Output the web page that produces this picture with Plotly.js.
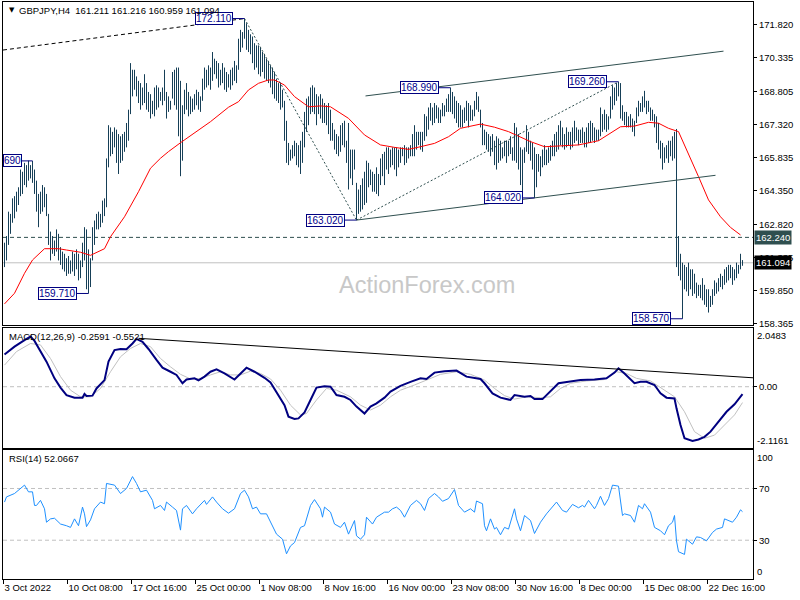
<!DOCTYPE html>
<html><head><meta charset="utf-8">
<script src="https://cdn.plot.ly/plotly-3.0.1.min.js"></script>
<style>html,body{margin:0;padding:0;background:#fff}#chart{width:800px;height:600px}</style>
</head><body><div id="chart"></div>
<script>
// ---------- DATA ----------
const symbolTitle = "GBPJPY,H4\u00a0\u00a0161.211 161.216 160.959 161.094";
const macdTitle = "MACD(12,26,9) -0.2591 -0.5521";
const rsiTitle = "RSI(14) 52.0667";
const watermark = "ActionForex.com";

// H4 bar highs / lows (bar index 0 = 3 Oct 2022 00:00)
const highs = [
162.0,162.3,163.4,163.3,164.0,164.1,164.3,164.5,165.3,165.2,
165.6,165.5,165.7,165.5,165.69,165.3,164.8,164.2,164.3,164.6,
164.5,164.2,163.3,162.5,162.3,162.1,162.6,162.4,161.8,161.6,
161.5,161.3,161.4,161.2,161.6,161.5,161.7,161.5,161.2,162.0,
162.7,162.6,161.7,161.3,162.7,163.0,163.3,163.4,163.3,163.9,
164.0,165.8,167.3,167.2,167.0,167.2,167.1,166.9,166.8,166.9,
167.0,167.4,168.0,170.1,169.8,169.8,169.5,169.3,169.2,169.0,
169.6,169.2,168.8,168.7,168.4,169.0,169.1,169.0,168.8,169.0,
169.8,168.8,168.6,168.4,169.7,169.8,169.9,169.9,169.3,168.2,
168.9,169.2,168.8,168.6,168.5,168.7,168.9,168.8,168.6,169.4,
169.9,169.8,170.0,169.9,170.6,170.3,170.2,170.1,169.8,170.1,
169.9,169.7,169.6,169.8,169.9,170.2,170.0,171.2,171.6,171.5,
172.11,171.9,171.6,171.4,171.3,171.0,170.9,170.9,170.8,170.6,
170.5,170.3,170.2,170.0,169.9,169.7,169.4,169.2,169.2,168.9,
168.4,167.5,166.5,166.2,166.4,166.6,166.5,166.4,166.6,167.0,
167.9,168.5,168.6,169.0,169.1,169.0,168.7,168.6,168.7,168.5,
168.3,168.2,168.3,168.0,167.4,167.1,166.9,166.8,167.3,167.4,
167.5,166.6,167.4,166.2,166.2,166.2,164.7,164.4,164.6,164.9,
165.2,165.7,165.6,165.3,165.2,165.1,165.4,165.1,165.8,166.0,
166.1,166.3,166.3,166.2,166.3,166.3,166.3,166.2,166.3,166.3,
166.4,166.3,166.3,166.4,166.9,167.3,167.0,167.0,167.0,167.0,
167.8,167.7,168.1,168.3,168.1,168.3,168.2,168.1,168.0,168.3,
168.2,168.5,168.7,168.99,168.8,168.6,168.4,168.3,168.2,168.0,
168.1,168.4,168.3,168.2,168.0,168.4,168.8,168.6,168.0,167.4,
167.1,167.0,166.9,166.8,166.9,166.6,166.8,166.7,166.6,166.3,
166.6,166.6,166.6,166.8,166.3,167.4,167.2,166.9,166.3,166.2,
166.3,167.3,167.0,166.6,166.5,166.3,166.0,166.0,165.9,166.2,
166.4,166.2,166.3,166.4,166.6,166.9,167.0,167.3,167.5,167.2,
166.9,167.2,167.0,167.0,167.2,167.5,167.2,167.1,167.1,167.2,
167.0,167.2,167.4,167.5,167.4,167.2,167.1,167.1,168.1,167.8,
168.0,167.8,167.7,168.6,169.1,169.0,169.2,169.26,169.2,168.2,
167.9,167.9,167.7,167.8,167.6,167.5,168.1,168.4,168.3,168.6,
168.85,168.4,168.4,168.1,168.0,167.8,167.7,167.4,166.6,166.5,
166.3,166.4,166.6,166.6,166.8,167.0,167.13,162.3,161.5,161.1,
161.0,160.9,161.1,160.8,160.8,160.6,160.2,160.1,160.1,160.4,
160.1,159.9,159.9,159.6,159.9,160.3,160.2,160.4,160.6,160.5,
160.8,160.9,161.0,161.0,160.9,160.8,161.1,161.0,161.5,161.216];
const lows = [
160.9,161.2,161.9,162.4,162.9,163.1,163.4,163.7,164.1,164.2,
164.6,164.5,164.8,164.9,164.7,164.2,163.4,162.7,163.3,163.4,
163.6,163.2,161.9,161.2,161.5,161.4,161.6,161.2,161.0,160.8,
160.7,160.5,160.6,160.6,160.7,160.5,160.8,160.3,160.4,160.9,
161.2,159.9,159.71,160.0,161.2,161.9,162.6,162.6,162.7,162.9,
163.2,163.6,165.4,165.9,166.0,166.3,165.6,165.1,165.6,165.7,
166.1,166.3,166.6,167.8,168.6,168.9,168.6,168.3,168.0,168.2,
168.3,168.0,167.9,167.6,167.8,167.7,168.0,168.1,168.4,168.2,
168.4,167.6,167.9,168.0,168.5,168.2,168.0,166.8,165.0,165.7,
167.8,168.0,167.7,167.8,167.9,168.0,168.2,168.0,167.9,168.4,
168.9,169.0,169.1,168.9,169.3,169.6,169.4,169.0,169.1,169.2,
168.9,168.8,169.0,168.9,169.1,169.3,169.2,169.8,170.6,170.8,
171.2,170.7,170.6,170.5,170.1,169.8,169.9,169.6,169.5,169.7,
169.4,169.3,169.2,169.0,168.7,168.5,168.4,168.3,168.0,168.1,
166.6,165.6,165.5,165.7,165.8,165.9,165.5,165.4,165.1,165.6,
166.3,167.0,167.3,167.8,167.9,167.8,167.3,167.8,167.6,167.4,
167.4,167.3,166.9,166.6,166.6,166.2,166.0,165.9,166.1,166.4,
166.3,165.6,164.4,164.9,164.6,165.3,163.02,163.3,163.4,163.5,
163.7,163.8,164.5,164.6,164.3,164.3,164.2,164.1,164.6,165.0,
164.6,165.3,165.1,165.4,165.5,165.3,165.0,165.4,165.6,165.9,
165.5,165.6,165.8,165.9,165.9,165.9,166.2,166.4,166.2,166.1,
166.6,166.8,167.1,167.5,167.3,167.4,167.6,167.4,167.4,167.7,
167.7,167.9,167.9,167.9,167.8,167.6,167.4,167.2,167.2,167.2,
167.4,167.5,167.2,167.5,167.5,167.7,168.0,167.9,167.2,166.4,
166.4,166.2,166.1,165.9,166.1,165.5,165.3,165.6,165.7,165.8,
165.9,165.6,165.9,166.0,165.7,165.7,165.6,165.3,164.6,164.1,
165.6,166.1,166.0,165.7,165.3,164.02,164.5,165.2,165.0,165.4,
165.5,165.5,165.6,165.7,165.9,165.9,166.1,166.2,166.4,166.3,
166.2,166.3,166.4,166.2,166.3,166.5,166.6,166.4,166.5,166.5,
166.3,166.3,166.5,166.5,166.6,166.5,166.6,166.6,166.8,167.0,
167.1,167.0,167.1,167.6,168.0,168.2,168.4,168.6,167.6,167.5,
167.3,167.2,167.2,167.2,167.0,166.8,167.4,167.7,167.9,167.9,
168.1,167.8,167.9,167.5,167.5,167.2,166.5,166.2,165.8,165.3,
165.6,165.8,165.6,165.9,165.7,165.8,160.9,160.5,160.3,158.57,
159.9,159.8,159.6,159.9,159.6,159.7,159.5,159.6,159.5,159.4,
159.2,159.1,158.85,159.1,159.2,159.6,159.7,159.8,160.0,159.9,
160.1,160.2,160.3,160.4,160.1,160.3,160.4,160.6,160.8,160.959];

// moving average (red), read at these bar indices
const maIdx = [0,5,10,14,20,27,31,38,43,50,53,60,67,73,78,82,88,95,103,112,117,122,127,132,135,140,145,152,158,163,172,180,188,195,202,208,215,222,228,238,245,252,258,263,270,278,287,297,303,308,315,322,327,332,337,342,347,352,358,363,368];
const maVal = [159.24,159.72,160.62,161.22,161.73,161.73,161.67,161.57,161.43,161.73,162.27,163.17,164.30,165.36,165.81,166.11,166.51,166.94,167.46,168.11,168.36,168.89,169.19,169.34,169.34,169.11,168.59,168.13,168.17,168.13,167.61,166.86,166.41,166.30,166.21,166.33,166.48,166.78,167.16,167.35,167.21,167.01,166.78,166.56,166.33,166.36,166.41,166.60,166.94,167.23,167.26,167.43,167.39,167.16,167.01,166.03,164.98,163.93,163.17,162.69,162.35];

// MACD main line and signal line
const macdIdx = [0,5,10,13,15,18,21,25,28,31,35,39,40,41,44,46,50,52,55,58,61,64,66,69,72,76,79,83,86,89,91,95,97,100,103,106,110,115,118,121,125,130,133,136,140,142,145,147,150,153,156,160,163,166,170,173,176,180,183,186,190,193,198,203,208,211,215,220,226,231,238,240,244,248,253,255,260,263,265,269,272,277,282,288,295,301,305,307,310,315,318,321,325,328,331,335,336,338,340,344,347,350,353,357,361,365,369];
const macdVal = [1.12,1.39,1.62,1.74,1.59,1.24,0.87,0.29,-0.03,-0.29,-0.38,-0.38,-0.25,-0.32,-0.31,-0.06,0.23,0.87,1.27,1.31,1.30,1.50,1.66,1.56,1.31,0.93,0.66,0.52,0.41,0.12,0.25,0.29,0.22,0.35,0.52,0.60,0.46,0.25,0.46,0.66,0.52,0.31,0.15,-0.17,-0.64,-1.04,-1.12,-1.10,-0.89,-0.46,-0.03,0.02,0.00,-0.29,-0.35,-0.46,-0.69,-0.93,-0.69,-0.58,-0.38,-0.17,0.03,0.17,0.29,0.27,0.49,0.54,0.56,0.35,0.27,0.12,-0.23,-0.38,-0.46,-0.29,-0.35,-0.32,-0.43,-0.43,-0.23,0.12,0.17,0.23,0.25,0.29,0.49,0.64,0.46,0.12,0.17,0.17,0.06,-0.23,-0.38,-0.41,-0.75,-1.33,-1.79,-1.88,-1.83,-1.74,-1.56,-1.22,-0.87,-0.61,-0.26];
const sigIdx = [0,6,13,18,23,28,33,38,43,48,53,58,63,68,73,78,83,88,93,98,103,108,113,118,123,128,133,138,143,148,151,156,161,166,173,178,183,188,193,198,205,211,218,226,233,240,245,250,255,261,268,273,278,283,291,300,306,311,316,323,330,335,340,345,350,355,360,365,369];
const sigVal = [0.75,1.22,1.50,1.45,0.98,0.35,-0.12,-0.35,-0.35,-0.06,0.52,1.04,1.33,1.50,1.39,0.98,0.69,0.43,0.27,0.29,0.41,0.52,0.41,0.41,0.54,0.46,0.27,-0.12,-0.64,-0.98,-0.93,-0.46,-0.06,-0.12,-0.35,-0.64,-0.81,-0.64,-0.35,-0.12,0.06,0.23,0.43,0.52,0.43,0.23,-0.06,-0.31,-0.43,-0.35,-0.38,-0.35,-0.06,0.12,0.20,0.25,0.52,0.46,0.29,0.20,-0.12,-0.35,-0.87,-1.56,-1.79,-1.68,-1.33,-0.98,-0.55];

// RSI(14)
const rsiIdx = [0,1,5,8,10,12,14,15,16,18,20,21,23,25,28,31,33,35,37,39,40,41,43,45,48,50,51,55,58,61,64,66,68,71,74,75,78,80,81,84,86,88,89,91,94,96,100,101,104,106,109,112,115,118,120,122,124,126,128,131,133,136,139,141,143,145,148,150,153,155,158,159,160,163,165,168,170,172,175,176,178,180,181,184,186,190,192,194,196,198,200,203,206,208,210,212,215,217,219,222,225,227,230,233,235,236,239,240,241,243,245,246,248,250,252,255,256,258,260,263,265,268,271,275,276,279,281,284,287,289,290,292,295,296,298,300,302,304,307,309,310,313,315,317,319,320,323,325,328,330,332,334,335,336,337,340,341,344,346,348,351,354,356,359,360,364,366,368,369];
const rsiVal = [59.5,63.5,66.1,70,72.6,67.4,67.4,56.9,56.9,60.8,54.3,43.9,46.5,47,42.5,41.2,39.9,46.5,41.2,55.6,50.4,40.5,45.7,54.3,59.5,58.2,73.9,72.6,66.1,70,79.2,73.9,67.4,68.7,60.8,54.3,56.9,53,59.5,55.6,53,37.8,54.3,56.9,50.4,54.3,60.8,57.7,63.5,59.5,54.3,50.9,54.3,66.1,68.7,63.5,54.3,55.6,50.4,50.4,43.9,34.7,30.8,19.5,25.6,28.2,39.9,41.2,56.9,61.4,54.3,47.8,55.6,51.7,42.5,39.9,43.9,34.7,45.2,33.4,30.8,34.2,47.8,42.5,47.8,51.7,51.7,54.3,55.6,53,47.8,56.9,60.8,58.2,53,62.2,66.1,63.5,60.1,62.2,69.2,56.9,51.7,54.3,51.7,60.3,58.2,41.2,37.3,46.5,38.6,39.9,34.2,39.9,38.6,54.3,46.5,37.3,49.1,45.2,35.2,43.9,50.4,58.2,59.5,53,51.7,57.7,55.1,56.9,55.6,60.8,54.3,56.9,64,56.9,62.2,72.6,71.8,49.1,50.4,49.1,43.9,56.9,54.3,58.2,51.7,39.9,37.3,34.2,41.2,43.9,49.1,29.5,21.1,19,30.8,26.9,32.6,32.1,29.5,36,38.6,39.9,46.5,43.9,47.8,53.5,52.07];

// time axis labels (every 32 H4 bars)
const timeLabels = ["3 Oct 2022","10 Oct 08:00","17 Oct 16:00","25 Oct 00:00","1 Nov 08:00","8 Nov 16:00","16 Nov 00:00","23 Nov 08:00","30 Nov 16:00","8 Dec 00:00","15 Dec 08:00","22 Dec 16:00"];
const barsPerLabel = 32;
const priceTicks = [158.365,159.850,161.335,162.820,164.350,165.835,167.320,168.805,170.335,171.820];

// marked swing points (bar index, price, label text)
const swingIdx = [14,42,120,176,223,265,307,339];
const swingPrice = [165.69,159.71,172.11,163.02,168.99,164.02,169.26,158.57];
const swingText = ["690","159.710","172.110","163.020","168.990","164.020","169.260","158.570"];

// horizontal levels
const levelPrice = 162.24;
const lastPrice = 161.094;
const rsiLevels = [30,70];

// trend lines: [barIndex, price] pairs
const dashTrend = [[-0.75,170.69],[120,172.11]];
const fanDown = [[120,172.11],[176,163.02]];
const fanUp = [[176,163.02],[307,169.26]];
const channelLow = [[176,163.02],[355.5,165.04]];
const channelHigh = [[180.5,168.62],[359.5,170.64]];
const macdTrend = [[67,1.68],[374.25,0.31]];

// ---------- CHART ----------
const FONT = "Liberation Sans, Arial, sans-serif";
const domMain = [0.4402, 1], domMacd = [0.2276, 0.4355], domRsi = [0, 0.2241];
const xRange = [-0.75, 374.25];

const bx = [], by = [];
for (let i = 0; i < highs.length; i++) { bx.push(i, i, null); by.push(lows[i], highs[i], null); }

const traces = [
  {type:'scatter', mode:'lines', x:bx, y:by, xaxis:'x', yaxis:'y', line:{color:'#163f57', width:1}, hoverinfo:'skip', connectgaps:false},
  {type:'scatter', mode:'lines', x:maIdx, y:maVal, xaxis:'x', yaxis:'y', line:{color:'#ff0000', width:1}, hoverinfo:'skip'},
  {type:'scatter', mode:'lines', x:sigIdx, y:sigVal, xaxis:'x2', yaxis:'y2', line:{color:'#c0c0c0', width:1}, hoverinfo:'skip'},
  {type:'scatter', mode:'lines', x:macdIdx, y:macdVal, xaxis:'x2', yaxis:'y2', line:{color:'#000080', width:2}, hoverinfo:'skip'},
  {type:'scatter', mode:'lines', x:rsiIdx, y:rsiVal, xaxis:'x3', yaxis:'y3', line:{color:'#1e90ff', width:1}, hoverinfo:'skip'}
];

function seg(pts, xref, yref, color, dash, layer) {
  return {type:'line', xref:xref, yref:yref, x0:pts[0][0], y0:pts[0][1], x1:pts[1][0], y1:pts[1][1],
          line:{color:color, width:1, dash:dash}, layer:layer||'above'};
}
const shapes = [
  {type:'line', xref:'paper', yref:'y', x0:0, x1:1, y0:levelPrice, y1:levelPrice, line:{color:'#2f4f4f', width:1, dash:'4px,3px'}, layer:'below'},
  {type:'line', xref:'paper', yref:'y', x0:0, x1:1, y0:lastPrice, y1:lastPrice, line:{color:'#c0c0c0', width:1}, layer:'below'},
  {type:'line', xref:'paper', yref:'y2', x0:0, x1:1, y0:0, y1:0, line:{color:'#c0c0c0', width:1, dash:'4px,3px'}, layer:'below'},
  seg(dashTrend, 'x', 'y', '#000000', '4px,3px'),
  seg(fanDown, 'x', 'y', '#2f4f4f', '2px,2px'),
  seg(fanUp, 'x', 'y', '#2f4f4f', '2px,2px'),
  seg(channelLow, 'x', 'y', '#2f4f4f', 'solid'),
  seg(channelHigh, 'x', 'y', '#2f4f4f', 'solid'),
  seg(macdTrend, 'x2', 'y2', '#000000', 'solid')
];
rsiLevels.forEach(v => shapes.push({type:'line', xref:'paper', yref:'y3', x0:0, x1:1, y0:v, y1:v, line:{color:'#c0c0c0', width:1, dash:'4px,3px'}, layer:'below'}));

const annotations = [];
swingIdx.forEach((ix, k) => {
  annotations.push({x:ix, y:swingPrice[k], xref:'x', yref:'y', text:swingText[k], showarrow:true, arrowhead:0,
    arrowwidth:1, arrowcolor:'#000080', ax:(swingText[k].length < 5 ? -20 : -31), ay:0,
    bgcolor:'#ffffff', bordercolor:'#000080', borderwidth:1, borderpad:0,
    font:{family:FONT, size:10, color:'#00008b'}});
});
// right-side price tags
annotations.push({xref:'paper', yref:'y', x:1, y:levelPrice, xanchor:'left', xshift:1, text:levelPrice.toFixed(3), showarrow:false,
  bgcolor:'#2f4f4f', borderpad:1, font:{family:FONT, size:9.5, color:'#ffffff'}});
annotations.push({xref:'paper', yref:'y', x:1, y:lastPrice, xanchor:'left', xshift:1, text:lastPrice.toFixed(3), showarrow:false,
  bgcolor:'#000000', borderpad:1, font:{family:FONT, size:9.5, color:'#ffffff'}});
// panel titles
annotations.push({xref:'paper', yref:'paper', x:0.0053, y:0.9861, xanchor:'left', yanchor:'middle', text:'\u25BC', showarrow:false, font:{family:'DejaVu Sans', size:7, color:'#000'}});
annotations.push({xref:'paper', yref:'paper', x:0.0187, y:0.9861, xanchor:'left', yanchor:'middle', text:symbolTitle, showarrow:false, font:{family:FONT, size:9.5, color:'#000'}});
annotations.push({xref:'paper', yref:'paper', x:0.0053, y:0.4211, xanchor:'left', yanchor:'middle', text:macdTitle, showarrow:false, font:{family:FONT, size:9.5, color:'#000'}});
annotations.push({xref:'paper', yref:'paper', x:0.0053, y:0.208, xanchor:'left', yanchor:'middle', text:rsiTitle, showarrow:false, font:{family:FONT, size:9.5, color:'#000'}});
// watermark
annotations.push({xref:'paper', yref:'paper', x:0.5653, y:0.5095, xanchor:'center', yanchor:'middle', text:watermark, showarrow:false, font:{family:FONT, size:23.5, color:'#c8c8c8'}});
// indicator scale edge labels
const edge = (txt, y, ya) => ({xref:'paper', yref:'paper', x:1, y:y, xanchor:'left', yanchor:ya, xshift:2, text:txt, showarrow:false, font:{family:FONT, size:9.5, color:'#000'}});
annotations.push(edge('2.0483', domMacd[1], 'top'));
annotations.push(edge('-2.1161', domMacd[0], 'bottom'));
annotations.push(edge('100', domRsi[1], 'top'));
annotations.push(edge('0', domRsi[0], 'bottom'));

const tickFont = {family:FONT, size:9.5, color:'#000'};
const baseX = {range:xRange, showgrid:false, zeroline:false, showline:true, mirror:true, linecolor:'#000', linewidth:1, ticks:'', showticklabels:false, fixedrange:true};
const baseY = {side:'right', showgrid:false, zeroline:false, showline:true, mirror:true, linecolor:'#000', linewidth:1, ticks:'outside', ticklen:3, tickcolor:'#000', tickfont:tickFont, fixedrange:true};

const layout = {
  width:800, height:600, margin:{l:3, r:47, t:2, b:21, pad:0},
  paper_bgcolor:'#ffffff', plot_bgcolor:'#ffffff', showlegend:false,
  xaxis: Object.assign({}, baseX, {anchor:'y', domain:[0,1]}),
  xaxis2: Object.assign({}, baseX, {anchor:'y2', domain:[0,1]}),
  xaxis3: Object.assign({}, baseX, {anchor:'y3', domain:[0,1], showticklabels:true, ticks:'outside', ticklen:4, tickcolor:'#000',
     tickvals: timeLabels.map((t,k) => k*barsPerLabel - 0.5), ticktext: timeLabels, ticklabelposition:'outside right', tickangle:0, tickfont:tickFont}),
  yaxis: Object.assign({}, baseY, {anchor:'x', domain:domMain, range:[158.288,172.857], tickvals:priceTicks, ticktext:priceTicks.map(v=>v.toFixed(3))}),
  yaxis2: Object.assign({}, baseY, {anchor:'x2', domain:domMacd, range:[-2.1161,2.0483], tickvals:[0], ticktext:['0.00']}),
  yaxis3: Object.assign({}, baseY, {anchor:'x3', domain:domRsi, range:[0,100], tickvals:rsiLevels, ticktext:rsiLevels.map(String)}),
  shapes: shapes,
  annotations: annotations
};

Plotly.newPlot('chart', traces, layout, {displayModeBar:false, staticPlot:true});
</script>
</body></html>
